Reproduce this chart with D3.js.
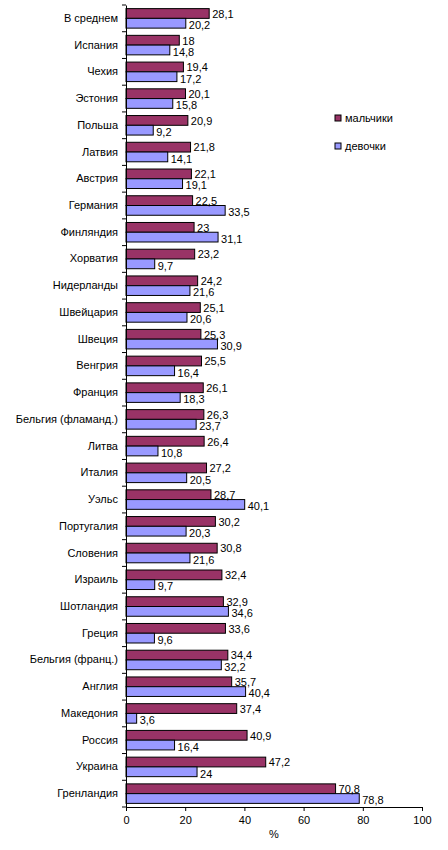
<!DOCTYPE html>
<html lang="ru">
<head>
<meta charset="UTF-8" />
<title>мальчики / девочки</title>
<style>
  body { margin: 0; background: #fff; }
  svg { display: block; font-family: "Liberation Sans", Arial, sans-serif; }
  .lbl { font-size: 11px; fill: #000; }
</style>
</head>
<body>
<svg id="chart"></svg>
<script src="https://cdn.jsdelivr.net/npm/d3@7/dist/d3.min.js"></script>
<script>
var width = 448;
var height = 850;

// data, top to bottom
var countries = ["В среднем", "Испания", "Чехия", "Эстония", "Польша", "Латвия", "Австрия",
  "Германия", "Финляндия", "Хорватия", "Нидерланды", "Швейцария", "Швеция", "Венгрия",
  "Франция", "Бельгия (фламанд.)", "Литва", "Италия", "Уэльс", "Португалия", "Словения",
  "Израиль", "Шотландия", "Греция", "Бельгия (франц.)", "Англия", "Македония", "Россия",
  "Украина", "Гренландия"];
var boys = [28.1, 18, 19.4, 20.1, 20.9, 21.8, 22.1, 22.5, 23, 23.2, 24.2, 25.1, 25.3, 25.5,
  26.1, 26.3, 26.4, 27.2, 28.7, 30.2, 30.8, 32.4, 32.9, 33.6, 34.4, 35.7, 37.4, 40.9, 47.2, 70.8];
var girls = [20.2, 14.8, 17.2, 15.8, 9.2, 14.1, 19.1, 33.5, 31.1, 9.7, 21.6, 20.6, 30.9, 16.4,
  18.3, 23.7, 10.8, 20.5, 40.1, 20.3, 21.6, 9.7, 34.6, 9.6, 32.2, 40.4, 3.6, 16.4, 24, 78.8];
var seriesNames = ["мальчики", "девочки"];
var seriesColors = ["#993366", "#9999ff"];
var xTicks = [0, 20, 40, 60, 80, 100];

var margin = { top: 5, left: 126, right: 26, bottom: 43 };

var rows = countries.map(function(c, i) {
  return { name: c, values: [boys[i], girls[i]] };
});

var svg = d3.select("#chart").attr("width", width).attr("height", height);

var x = d3.scaleLinear().domain([0, 100]).range([margin.left, width - margin.right]);
var y = d3.scaleBand().domain(countries).range([margin.top, height - margin.bottom]);
var inner = d3.scaleBand().domain(seriesNames).range([0, y.bandwidth()])
  .paddingInner(0).paddingOuter(0.37);

var fmt = function(v) { return String(v).replace(".", ","); };

// bars
var groups = svg.selectAll(".grp")
  .data(rows)
  .enter().append("g")
  .attr("class", "grp")
  .attr("transform", function(d) { return "translate(0," + y(d.name) + ")"; });

groups.selectAll("rect")
  .data(function(d) { return d.values.map(function(v, k) { return { v: v, k: k }; }); })
  .enter().append("rect")
  .attr("x", x(0))
  .attr("y", function(d) { return inner(seriesNames[d.k]); })
  .attr("width", function(d) { return x(d.v) - x(0); })
  .attr("height", inner.bandwidth())
  .attr("fill", function(d) { return seriesColors[d.k]; })
  .attr("stroke", "#000")
  .attr("stroke-width", 1);

// value labels, the lower one sits a little lower like in excel
groups.selectAll("text")
  .data(function(d) { return d.values.map(function(v, k) { return { v: v, k: k }; }); })
  .enter().append("text")
  .attr("class", "lbl")
  .attr("x", function(d) { return x(d.v) + 3; })
  .attr("y", function(d) { return inner(seriesNames[d.k]) + inner.bandwidth() / 2 + (d.k ? 2 : 0.5); })
  .attr("dy", "0.35em")
  .text(function(d) { return fmt(d.v); });

// y axis: labels centred on bands, ticks between categories
var yAxis = svg.append("g")
  .attr("transform", "translate(" + x(0) + ",0)")
  .call(d3.axisLeft(y).tickSize(0).tickPadding(8));
yAxis.select(".domain").attr("stroke", "#000");
yAxis.selectAll("text").attr("class", "lbl").attr("font-family", null).attr("font-size", null);

var bounds = countries.map(function(c) { return y(c); }).concat([y.range()[1]]);
svg.selectAll(".ytick")
  .data(bounds)
  .enter().append("line")
  .attr("x1", x(0) - 4).attr("x2", x(0))
  .attr("y1", function(d) { return d; }).attr("y2", function(d) { return d; })
  .attr("stroke", "#000");

// x axis
var xAxis = svg.append("g")
  .attr("transform", "translate(0," + y.range()[1] + ")")
  .call(d3.axisBottom(x).tickValues(xTicks).tickSize(4).tickPadding(5).tickSizeOuter(0));
xAxis.selectAll("path, line").attr("stroke", "#000");
xAxis.selectAll("text").attr("class", "lbl").attr("font-family", null).attr("font-size", null);

svg.append("text")
  .attr("class", "lbl")
  .attr("x", (x(0) + x(100)) / 2)
  .attr("y", 838)
  .attr("text-anchor", "middle")
  .text("%");

// legend
var legend = svg.selectAll(".leg")
  .data(seriesNames)
  .enter().append("g")
  .attr("transform", function(d, i) { return "translate(335," + (115 + i * 28) + ")"; });
legend.append("rect")
  .attr("width", 6).attr("height", 6)
  .attr("fill", function(d, i) { return seriesColors[i]; })
  .attr("stroke", "#000");
legend.append("text")
  .attr("class", "lbl")
  .attr("x", 10).attr("y", 3)
  .attr("dy", "0.35em")
  .text(function(d) { return d; });
</script>
</body>
</html>
